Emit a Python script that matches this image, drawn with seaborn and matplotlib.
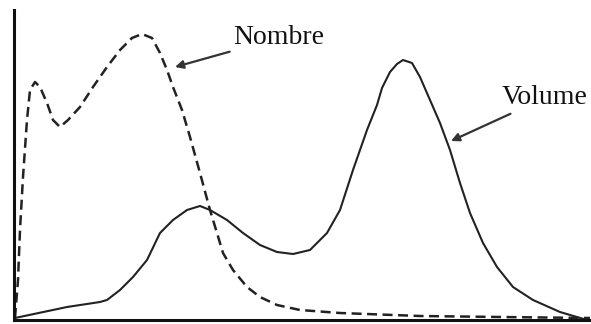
import matplotlib
matplotlib.use("Agg")
import matplotlib.pyplot as plt
import seaborn as sns
import pandas as pd

# Distribution curves (x: size axis, y: frequency)
nombre_x = [15, 18, 20, 23, 27, 30, 35, 40, 47, 53, 60, 68, 80, 93, 107, 120, 132, 142, 152, 160,
            167, 173, 182, 190, 200, 210, 217, 223, 233, 247, 260, 277, 300, 340, 420, 500, 590]
nombre_y = [2, 40, 90, 143, 200, 230, 238, 233, 217, 200, 193, 200, 213, 233, 253, 270, 282, 286,
            282, 267, 250, 233, 210, 183, 147, 110, 87, 67, 50, 33, 23, 15, 10, 7, 4, 3, 2]

volume_x = [15, 67, 100, 107, 120, 133, 147, 160, 173, 187, 200, 210, 227, 243, 260, 277, 293, 310,
            327, 340, 353, 367, 377, 382, 390, 397, 403, 412, 420, 430, 440, 450, 460, 470, 483,
            497, 513, 533, 560, 587]
volume_y = [2, 13, 18, 20, 30, 43, 60, 87, 100, 110, 114, 110, 100, 87, 75, 68, 66, 70,
            87, 110, 150, 190, 215, 232, 248, 256, 260, 257, 243, 220, 197, 170, 137, 107, 77,
            53, 33, 20, 8, 0]

labels = ["Nombre", "Volume"]

sns.set_theme(style="white")
plt.rcParams["font.family"] = ["Liberation Serif", "DejaVu Serif"]

fig = plt.figure(figsize=(5.91, 3.24), dpi=100)
ax = fig.add_axes([14 / 591, 4 / 324, 1 - 14 / 591, 310 / 324])

df_n = pd.DataFrame({"x": nombre_x, "y": nombre_y})
df_v = pd.DataFrame({"x": volume_x, "y": volume_y})
sns.lineplot(data=df_n, x="x", y="y", ax=ax, color="#222222", linewidth=1.8,
             linestyle=(0, (4, 2.2)), sort=False)
sns.lineplot(data=df_v, x="x", y="y", ax=ax, color="#222222", linewidth=1.5, sort=False)

ax.set_xlim(14, 591)
ax.set_ylim(0, 310)
ax.set_xticks([])
ax.set_yticks([])
ax.set_xlabel("")
ax.set_ylabel("")
for s in ["top", "right"]:
    ax.spines[s].set_visible(False)
for s in ["left", "bottom"]:
    ax.spines[s].set_color("#111111")
    ax.spines[s].set_linewidth(2.2)

arrow = dict(arrowstyle="-|>", color="#333333", lw=1.6, mutation_scale=12, shrinkA=0, shrinkB=0)
ax.annotate(labels[0], xy=(175, 253), xytext=(233, 282), textcoords="data",
            fontsize=20, color="#111111", va="center", ha="left", arrowprops=arrow,
            annotation_clip=False)
ax.annotate(labels[1], xy=(451, 179), xytext=(502, 222), textcoords="data",
            fontsize=20, color="#111111", va="center", ha="left", arrowprops=arrow,
            annotation_clip=False)

fig.savefig("out.png", dpi=100)
